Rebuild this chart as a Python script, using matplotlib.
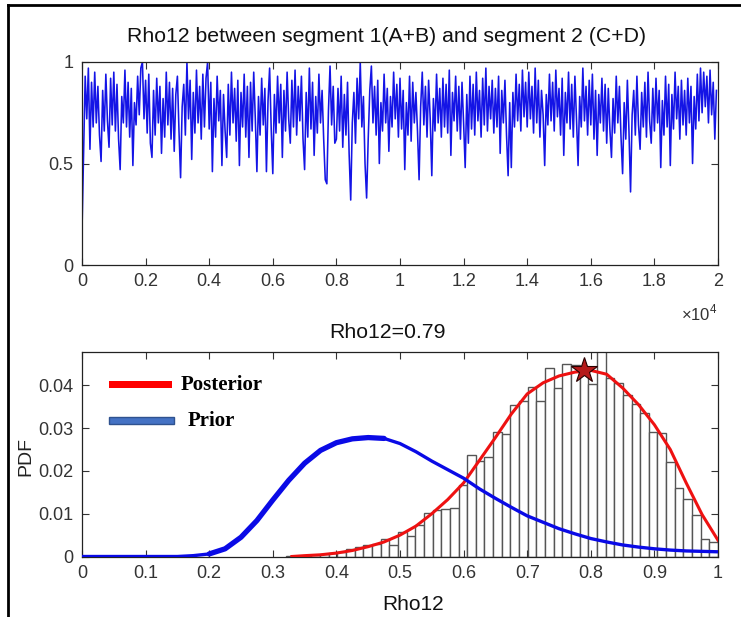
import numpy as np
import matplotlib
matplotlib.use('Agg')
import matplotlib.pyplot as plt
from matplotlib.patches import Rectangle
from matplotlib.lines import Line2D

plt.rcParams['font.family'] = ['Liberation Sans', 'DejaVu Sans']
plt.rcParams['mathtext.fontset'] = 'custom'
plt.rcParams['mathtext.rm'] = 'Liberation Sans'

# MCMC chain of Rho12, one value every 50 iterations
trace_step = 50
trace_rows = [
    [0.17, 0.55, 0.93, 0.72, 0.97, 0.57, 0.90, 0.68, 0.95, 0.70, 0.88, 0.64, 0.51, 0.86, 0.66, 0.94, 0.71, 0.58, 0.92, 0.69],
    [0.95, 0.66, 0.89, 0.62, 0.47, 0.83, 0.70, 0.96, 0.68, 0.90, 0.63, 0.87, 0.49, 0.80, 0.69, 0.93, 0.74, 0.97, 1.00, 0.72],
    [0.91, 0.65, 0.94, 0.60, 0.53, 0.86, 0.64, 0.92, 0.70, 0.88, 0.55, 0.82, 0.63, 0.95, 0.69, 0.90, 0.62, 0.87, 0.56, 0.84],
    [0.93, 0.66, 0.43, 0.78, 0.89, 0.64, 1.00, 0.72, 0.91, 0.52, 0.85, 0.65, 0.96, 0.70, 0.88, 0.62, 0.94, 0.68, 0.92, 1.00],
    [0.67, 0.90, 0.46, 0.82, 0.63, 0.93, 0.71, 0.86, 0.49, 0.84, 0.66, 0.53, 0.89, 0.64, 0.95, 0.70, 0.87, 0.61, 0.91, 0.49],
    [0.85, 0.68, 0.94, 0.63, 0.88, 0.53, 0.90, 0.66, 0.95, 0.72, 0.46, 0.83, 0.64, 0.92, 0.69, 0.87, 0.46, 0.81, 0.97, 0.67],
    [0.45, 0.84, 0.65, 0.93, 0.70, 0.89, 0.53, 0.86, 0.66, 0.95, 0.72, 0.60, 0.91, 0.68, 0.96, 0.64, 0.88, 0.71, 0.93, 0.62],
    [0.47, 0.85, 0.63, 0.97, 0.67, 0.90, 0.54, 0.83, 0.65, 0.94, 0.70, 0.86, 0.62, 0.42, 0.40, 0.76, 0.98, 0.69, 0.88, 0.60],
    [0.62, 0.87, 0.66, 0.93, 0.58, 0.84, 0.64, 0.90, 0.55, 0.32, 0.70, 0.85, 0.60, 0.92, 0.72, 1.00, 0.68, 0.83, 0.50, 0.33],
    [0.62, 0.86, 0.98, 0.70, 0.88, 0.64, 0.91, 0.50, 0.80, 0.66, 0.94, 0.70, 0.87, 0.56, 0.83, 0.68, 0.95, 0.72, 0.89, 0.63],
    [0.92, 0.67, 0.86, 0.47, 0.80, 0.64, 0.93, 0.61, 0.90, 0.70, 0.85, 0.66, 0.42, 0.78, 0.95, 0.69, 0.88, 0.63, 0.91, 0.72],
    [0.44, 0.82, 0.66, 0.94, 0.70, 0.87, 0.63, 0.92, 0.68, 0.89, 0.65, 0.96, 0.54, 0.85, 0.71, 0.93, 0.66, 0.88, 0.62, 0.90],
    [0.70, 0.48, 0.84, 0.60, 0.93, 0.67, 0.89, 0.64, 0.95, 0.71, 0.86, 0.63, 0.92, 0.69, 0.97, 0.66, 0.88, 0.72, 0.91, 0.65],
    [0.87, 0.68, 0.93, 0.55, 0.86, 0.70, 0.91, 0.64, 0.44, 0.80, 0.48, 0.85, 0.68, 0.94, 0.71, 0.89, 0.66, 0.96, 0.73, 0.90],
    [0.68, 0.95, 0.72, 0.88, 0.65, 0.97, 0.70, 0.91, 0.63, 0.86, 0.74, 0.49, 0.84, 0.69, 0.94, 0.71, 0.90, 0.66, 0.96, 0.73],
    [0.87, 0.64, 0.92, 0.54, 0.85, 0.70, 0.95, 0.67, 0.89, 0.63, 0.93, 0.72, 0.49, 0.83, 0.68, 0.97, 0.71, 0.88, 0.64, 0.91],
    [0.69, 0.94, 0.62, 0.86, 0.54, 0.84, 0.70, 0.92, 0.66, 0.89, 0.60, 0.87, 0.67, 0.53, 0.82, 0.65, 0.93, 0.70, 0.88, 0.63],
    [0.45, 0.80, 0.62, 0.91, 0.66, 0.36, 0.74, 0.86, 0.64, 0.93, 0.69, 0.57, 0.85, 0.68, 0.90, 0.63, 0.95, 0.71, 0.60, 0.87],
    [0.66, 0.92, 0.70, 0.86, 0.48, 0.81, 0.64, 0.93, 0.68, 0.89, 0.49, 0.84, 0.67, 0.95, 0.72, 0.88, 0.62, 0.91, 0.69, 0.86],
    [0.64, 0.92, 0.70, 0.88, 0.50, 0.83, 0.67, 0.94, 0.71, 0.97, 0.75, 0.95, 0.78, 0.93, 0.70, 0.96, 0.74, 0.90, 0.62, 0.86],
]

# histogram of the chain: 50 bins between min and max of the samples
hist_min = 0.32
hist_max = 1.0
hist_heights = [0.0001, 0.0001, 0.0002, 0.0003, 0.0005, 0.0008, 0.0011, 0.0017, 0.0022, 0.0027,
                0.0030, 0.0042, 0.0028, 0.0057, 0.0049, 0.0074, 0.0101, 0.0108, 0.0111, 0.0113,
                0.0168, 0.0237, 0.0223, 0.0232, 0.0290, 0.0286, 0.0355, 0.0364, 0.0396, 0.0364,
                0.0440, 0.0394, 0.0451, 0.0448, 0.0437, 0.0404, 0.0490, 0.0418, 0.0405, 0.0377,
                0.0357, 0.0336, 0.0290, 0.0288, 0.0220, 0.0159, 0.0135, 0.0098, 0.0041, 0.0035]

posterior_x = [0.33, 0.35, 0.375, 0.40, 0.425, 0.45, 0.475, 0.50, 0.525, 0.55, 0.575, 0.60, 0.625, 0.65,
               0.675, 0.70, 0.725, 0.75, 0.775, 0.80, 0.825, 0.85, 0.875, 0.90, 0.925, 0.95, 0.975, 1.00]
posterior_y = [0.0000, 0.0002, 0.0004, 0.0008, 0.0014, 0.0023, 0.0034, 0.0050, 0.0071, 0.0100, 0.0133, 0.0172,
               0.0225, 0.0278, 0.0333, 0.0380, 0.0406, 0.0422, 0.0431, 0.0435, 0.0426, 0.0394, 0.0355, 0.0308,
               0.0250, 0.0172, 0.0098, 0.0038]

prior_x = [0.00, 0.15, 0.175, 0.20, 0.225, 0.25, 0.275, 0.30, 0.325, 0.35, 0.375, 0.40, 0.425, 0.45, 0.475,
           0.50, 0.525, 0.55, 0.575, 0.60, 0.625, 0.65, 0.675, 0.70, 0.725, 0.75, 0.775, 0.80, 0.825, 0.85,
           0.875, 0.90, 0.925, 0.95, 0.975, 1.00]
prior_y = [0.0, 0.0, 0.0002, 0.0006, 0.0018, 0.0045, 0.0084, 0.0132, 0.0178, 0.0218, 0.0248, 0.0266, 0.0275,
           0.0278, 0.0276, 0.0264, 0.0245, 0.0223, 0.0203, 0.0183, 0.0158, 0.0136, 0.0115, 0.0095, 0.0080,
           0.0065, 0.0053, 0.0042, 0.0034, 0.0027, 0.0022, 0.0018, 0.0015, 0.0013, 0.0012, 0.0011]

rho_map = 0.79
rho_map_pdf = 0.0435

tick_col = '#333333'


def matlab_axes(ax):
    ax.tick_params(direction='in', length=5, width=0.8, top=True, right=True,
                   labelsize=13, labelcolor=tick_col, color=tick_col, pad=6)
    for s in ax.spines.values():
        s.set_color('#222222')
        s.set_linewidth(0.9)


fig = plt.figure(figsize=(7.41, 6.17), dpi=100)

# ---- trace plot
ax1 = fig.add_axes([82 / 741, 1 - 265 / 617, 636 / 741, 203 / 617])
trace = np.concatenate([np.array(r) for r in trace_rows])
it = np.arange(len(trace)) * trace_step
ax1.plot(it, trace, color='#1414E6', lw=1.15)
ax1.set_xlim(0, 20000)
ax1.set_ylim(0, 1)
ax1.set_xticks(np.arange(0, 20001, 2000))
ax1.set_xticklabels(['0', '0.2', '0.4', '0.6', '0.8', '1', '1.2', '1.4', '1.6', '1.8', '2'])
ax1.set_yticks([0, 0.5, 1])
ax1.set_yticklabels(['0', '0.5', '1'])
matlab_axes(ax1)
fig.text(718 / 741, 1 - 313 / 617, r'$\times10^{4}$', ha='right', va='center', fontsize=12, color=tick_col)
fig.text(387 / 741, 1 - 37 / 617, 'Rho12 between segment 1(A+B) and segment 2 (C+D)',
         ha='center', va='center', fontsize=15.3, color='#111111')

# ---- posterior / prior plot
ax2 = fig.add_axes([82 / 741, 1 - 556.5 / 617, 636 / 741, 204.5 / 617])
edges = np.linspace(hist_min, hist_max, len(hist_heights) + 1)
ax2.bar(edges[:-1], hist_heights, width=edges[1] - edges[0], align='edge',
        facecolor='white', edgecolor='#555555', linewidth=1.0, zorder=1)
ax2.plot(posterior_x, posterior_y, color='#EE1111', lw=2.2, zorder=3)
px = np.array(prior_x)
py = np.array(prior_y)
ax2.plot(px, py, color='#0A0AE6', lw=2.4, zorder=4, solid_capstyle='butt')
thick = (px >= 0.2) & (px <= 0.475)
ax2.plot(px[thick], py[thick], color='#0A0AE6', lw=3.8, zorder=4, solid_capstyle='round')
ax2.plot(rho_map, rho_map_pdf, marker='*', ms=19, mfc='#B51A1A', mec='#2A0000', mew=0.8, zorder=5)
ax2.set_xlim(0, 1)
ax2.set_ylim(0, 0.0478)
ax2.set_xticks(np.arange(0, 1.01, 0.1))
ax2.set_xticklabels(['0', '0.1', '0.2', '0.3', '0.4', '0.5', '0.6', '0.7', '0.8', '0.9', '1'])
ax2.set_yticks([0, 0.01, 0.02, 0.03, 0.04])
ax2.set_yticklabels(['0', '0.01', '0.02', '0.03', '0.04'])
matlab_axes(ax2)

# hand made legend
ax2.add_patch(Rectangle((0.043, 0.823), 0.099, 0.033, transform=ax2.transAxes,
                        facecolor='#FF0000', edgecolor='none', zorder=6))
ax2.add_patch(Rectangle((0.042, 0.646), 0.102, 0.036, transform=ax2.transAxes,
                        facecolor='#4472C4', edgecolor='#2F528F', lw=1.0, zorder=6))
ax2.text(0.155, 0.84, 'Posterior', transform=ax2.transAxes, ha='left', va='center',
         fontsize=15, fontweight='bold', family=['Liberation Serif', 'DejaVu Serif'], zorder=6)
ax2.text(0.166, 0.664, 'Prior', transform=ax2.transAxes, ha='left', va='center',
         fontsize=15, fontweight='bold', family=['Liberation Serif', 'DejaVu Serif'], zorder=6)

fig.text(387 / 741, 1 - 333 / 617, 'Rho12=0.79', ha='center', va='center', fontsize=15.3, color='#111111')
fig.text(413 / 741, 1 - 605 / 617, 'Rho12', ha='center', va='center', fontsize=15, color='#111111')
fig.text(26 / 741, 1 - 456 / 617, 'PDF', ha='center', va='center', rotation=90, fontsize=14, color='#222222')

# frame around the picture
fig.add_artist(Line2D([8 / 741, 8 / 741], [0, 1 - 5 / 617], color='black', lw=2))
fig.add_artist(Line2D([8 / 741, 1], [1 - 5 / 617, 1 - 5 / 617], color='black', lw=2))

fig.savefig('out.png', dpi=100)
